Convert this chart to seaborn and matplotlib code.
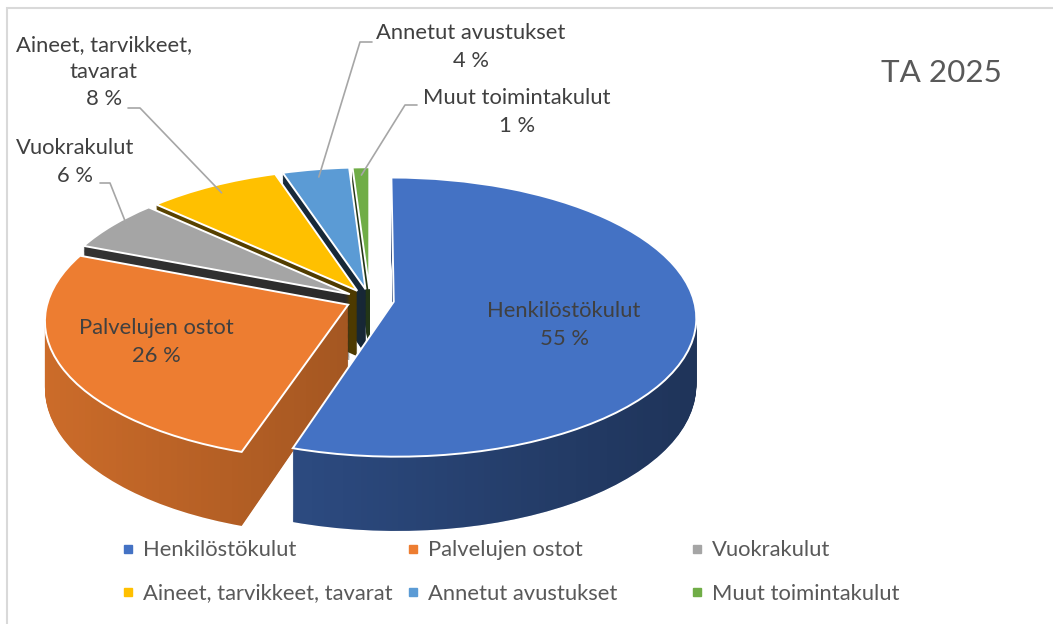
import numpy as np
import matplotlib
matplotlib.use("Agg")
import matplotlib.pyplot as plt
import matplotlib.colors as mcolors
from matplotlib.lines import Line2D
from matplotlib.patches import Rectangle
from matplotlib.path import Path
from matplotlib.transforms import Transform
from matplotlib.textpath import TextPath
from matplotlib.font_manager import FontProperties
import seaborn as sns

# ---------------- data ----------------
categories = ["Henkilöstökulut", "Palvelujen ostot", "Vuokrakulut",
              "Aineet, tarvikkeet, tavarat", "Annetut avustukset", "Muut toimintakulut"]
values = [55, 26, 6, 8, 4, 1]
label_texts = ["Henkilöstökulut", "Palvelujen ostot", "Vuokrakulut",
               "Aineet, tarvikkeet,\ntavarat", "Annetut avustukset", "Muut toimintakulut"]
title = "TA 2025"

# ---------------- style ----------------
sns.set_theme(style="white")
FONT = "Lato"
plt.rcParams['font.family'] = [FONT, 'DejaVu Sans']
palette = sns.color_palette(["#4472C4", "#ED7D31", "#A5A5A5", "#FFC000", "#5B9BD5", "#70AD47"])
TXT = "#404040"
LEG_TXT = "#595959"

W, H = 1053, 624
fig = plt.figure(figsize=(W / 100, H / 100), dpi=100)
ax = fig.add_axes([0, 0, 1, 1])

# pixel <-> axes-data mapping
CX, CY, RX, RY = 370, 300, 300, 137.5
PERSP = 0.11       # perspective strength (back smaller, front larger)
DEPTH = 0.48       # pie thickness in plane units


def d(px, py):
    return ((px - CX) / RX, (CY - py) / RY)


class Persp(Transform):
    """Tilted-disc perspective: plane (x, y) -> screen, with vertical drop t."""
    input_dims = output_dims = 2
    is_separable = False
    has_inverse = False

    def __init__(self, t=0.0):
        super().__init__()
        self.t = t

    def transform_non_affine(self, values):
        v = np.asarray(values, float)
        x, y = v[:, 0], v[:, 1]
        w = 1.0 / (1.0 + PERSP * y)
        return np.column_stack([x * w, (y - self.t) * w])


def fit_size(s, target_px, family=FONT):
    w = TextPath((0, 0), s, size=10, prop=FontProperties(family=family)).get_extents().width
    return 10 * target_px / (w * 100 / 72)


explode = [0.08] * len(values)
side_factor = [0.78, 0.86, 0.32, 0.38, 0.32, 0.4]
side_colors = [tuple(np.array(mcolors.to_rgb(c)) * f) for c, f in zip(palette, side_factor)]

# extruded sides (stacked layers, deepest first)
side_paths = []
for t in np.linspace(DEPTH, 0.0, 76):
    P = Persp(t)
    ws, _ = ax.pie(values, colors=side_colors, startangle=90, counterclock=False,
                   explode=explode, wedgeprops=dict(linewidth=0, zorder=1))
    for w in ws:
        w.set_transform(P + ax.transData)
        side_paths.append(P.transform_path(w.get_path()))

# horizontal shading gradient on the sides
x0, x1 = d(0, 0)[0], d(W, 0)[0]
y0, y1 = d(0, H)[1], d(0, 0)[1]
grad = np.zeros((1, 256, 4))
xs = np.linspace(x0, x1, 256)
grad[0, :, 3] = np.clip((xs - d(40, 0)[0]) / (d(700, 0)[0] - d(40, 0)[0]), 0, 1) * 0.42
im = ax.imshow(grad, extent=(x0, x1, y0, y1), aspect='auto', zorder=1.5,
               interpolation='bilinear')
im.set_clip_path(Path.make_compound_path(*side_paths), ax.transData)

# top faces
TOP = Persp(0.0)
wedges, _ = ax.pie(values, colors=palette, startangle=90, counterclock=False,
                   explode=explode,
                   wedgeprops=dict(linewidth=1.4, edgecolor='white', zorder=2))
for w in wedges:
    w.set_transform(TOP + ax.transData)

ax.set_aspect('auto')
ax.set_xlim(x0, x1)
ax.set_ylim(y0, y1)
ax.axis('off')

fs = fit_size("Henkilöstökulut", 151)

# inner labels
inner_pos = {0: (564, 325), 1: (156, 342)}
for i, (px, py) in inner_pos.items():
    ax.text(*d(px, py), f"{label_texts[i]}\n{values[i]} %", ha='center', va='center',
            fontsize=fs, color=TXT, linespacing=1.45, zorder=5)

# outer labels with leader lines
outer = {
    3: dict(text=(104, 72), elbow=[(128, 108), (140, 108)]),
    2: dict(text=(75, 162), elbow=[(100, 183), (110, 183)]),
    4: dict(text=(471, 47), elbow=[(372, 42), (360, 42)]),
    5: dict(text=(517, 112), elbow=[(417, 105), (405, 105)]),
}
for i, spec in outer.items():
    ax.text(*d(*spec['text']), f"{label_texts[i]}\n{values[i]} %", ha='center', va='center',
            fontsize=fs, color=TXT, linespacing=1.45, zorder=5)
    w = wedges[i]
    mid = np.deg2rad((w.theta1 + w.theta2) / 2)
    rim_plane = (w.center[0] + 0.93 * w.r * np.cos(mid), w.center[1] + 0.93 * w.r * np.sin(mid))
    rim = TOP.transform(np.array([rim_plane]))[0]
    pts = [d(*p) for p in spec['elbow']] + [tuple(rim)]
    ax.plot([p[0] for p in pts], [p[1] for p in pts], color="#A6A6A6", lw=1.2, zorder=4)

# title
ax.text(*d(941, 73), title, ha='center', va='center',
        fontsize=fit_size(title, 118), color="#595959", zorder=5)

# legend (three columns)
cols = [(128, [0, 3]), (413, [1, 4]), (697, [2, 5])]
for cx, idx in cols:
    handles = [Line2D([], [], marker='s', linestyle='', markersize=6,
                      markerfacecolor=palette[k], markeredgecolor=palette[k]) for k in idx]
    leg = fig.legend(handles, [categories[k] for k in idx], loc='center left',
                     bbox_to_anchor=((cx - 5) / W, 1 - 572 / H), frameon=False,
                     fontsize=fs, handlelength=0.45, handletextpad=0.45,
                     labelspacing=1.05, borderpad=0, borderaxespad=0)
    for t in leg.get_texts():
        t.set_color(LEG_TXT)

# chart border (top/left visible)
fig.patches.append(Rectangle((7 / W, -0.05), 1.2, 1 - 8 / H + 0.05, fill=False,
                             edgecolor="#D9D9D9", lw=1.5, transform=fig.transFigure))

fig.savefig("out.png", dpi=100)
